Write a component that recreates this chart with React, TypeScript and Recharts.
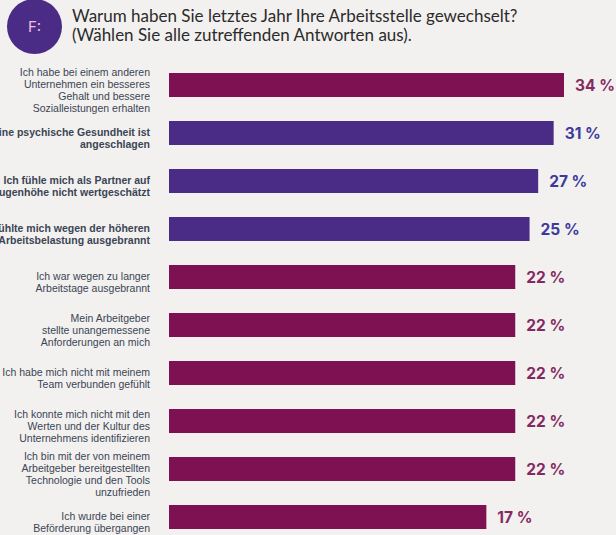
import { BarChart, Bar, XAxis, YAxis, LabelList } from "recharts";

const reasons = [
  "Ich habe bei einem anderen\nUnternehmen ein besseres\nGehalt und bessere\nSozialleistungen erhalten",
  "Meine psychische Gesundheit ist\nangeschlagen",
  "Ich fühle mich als Partner auf\nAugenhöhe nicht wertgeschätzt",
  "Ich fühlte mich wegen der höheren\nArbeitsbelastung ausgebrannt",
  "Ich war wegen zu langer\nArbeitstage ausgebrannt",
  "Mein Arbeitgeber\nstellte unangemessene\nAnforderungen an mich",
  "Ich habe mich nicht mit meinem\nTeam verbunden gefühlt",
  "Ich konnte mich nicht mit den\nWerten und der Kultur des\nUnternehmens identifizieren",
  "Ich bin mit der von meinem\nArbeitgeber bereitgestellten\nTechnologie und den Tools\nunzufrieden",
  "Ich wurde bei einer\nBeförderung übergangen",
];
const shares = [34, 31, 27, 25, 22, 22, 22, 22, 22, 17];
const mentalHealth = [false, true, true, true, false, false, false, false, false, false];

const data = reasons.map((reason, i) => ({
  reason,
  share: shares[i],
  mental: mentalHealth[i],
}));

const MAGENTA = "#7e1151";
const PURPLE = "#4a2b86";

const ReasonTick = (props: any) => {
  const { x, y, payload, index } = props;
  const lines = String(payload.value).split("\n");
  const bold = mentalHealth[index];
  const lineH = 12;
  const top = y + 5 - ((lines.length - 1) * lineH) / 2;
  return (
    <text
      x={x}
      y={top}
      textAnchor="end"
      fontSize={10.5}
      fontFamily="'Liberation Sans', Arial, sans-serif"
      fontWeight={bold ? 700 : 400}
      fill="#3b4553"
    >
      {lines.map((l, i) => (
        <tspan key={i} x={x} y={top + i * lineH} dy="0.35em">
          {l}
        </tspan>
      ))}
    </text>
  );
};

const ShareLabel = (props: any) => {
  const { x, y, width, height, value, index } = props;
  return (
    <text
      x={x + width + 11}
      y={y + height / 2}
      dy="0.36em"
      fontSize={15.5}
      fontWeight={700}
      fontFamily="Inter, sans-serif"
      fill={mentalHealth[index] ? "#3d3a9c" : "#852a60"}
    >
      {`${value} %`}
    </text>
  );
};

export default function App() {
  return (
    <div
      style={{
        position: "relative",
        width: 616,
        height: 535,
        overflow: "hidden",
        background: "#f2f1f0",
      }}
    >
      <style>{"body{margin:0}"}</style>
      <div
        style={{
          position: "absolute",
          left: 7,
          top: -1,
          width: 55,
          height: 55,
          borderRadius: "50%",
          background: PURPLE,
          color: "#f2bde0",
          fontFamily: "Inter, sans-serif",
          fontSize: 15,
          display: "flex",
          alignItems: "center",
          justifyContent: "center",
        }}
      >
        F:
      </div>
      <div
        style={{
          position: "absolute",
          left: 72,
          top: 6,
          fontFamily: "Lato, sans-serif",
          fontSize: 17,
          lineHeight: "19px",
          color: "#2b2b2b",
          whiteSpace: "nowrap",
        }}
      >
        Warum haben Sie letztes Jahr Ihre Arbeitsstelle gewechselt?
        <br />
        (Wählen Sie alle zutreffenden Antworten aus).
      </div>
      <div style={{ position: "absolute", left: 0, top: 0 }}>
        <BarChart
          layout="vertical"
          width={616}
          height={560}
          data={data}
          margin={{ top: 61, right: 52, bottom: 19, left: 0 }}
          barSize={24}
        >
          <XAxis type="number" scale="log" domain={[1, 34]} allowDataOverflow hide />
          <YAxis
            type="category"
            dataKey="reason"
            width={169}
            tickLine={false}
            axisLine={false}
            tickSize={0}
            tickMargin={19}
            interval={0}
            tick={<ReasonTick />}
          />
          <Bar dataKey="share" isAnimationActive={false} shape={(p: any) => (
            <rect
              x={p.x}
              y={p.y}
              width={p.width}
              height={p.height}
              fill={p.payload.mental ? PURPLE : MAGENTA}
            />
          )}>
            <LabelList dataKey="share" content={<ShareLabel />} />
          </Bar>
        </BarChart>
      </div>
    </div>
  );
}
